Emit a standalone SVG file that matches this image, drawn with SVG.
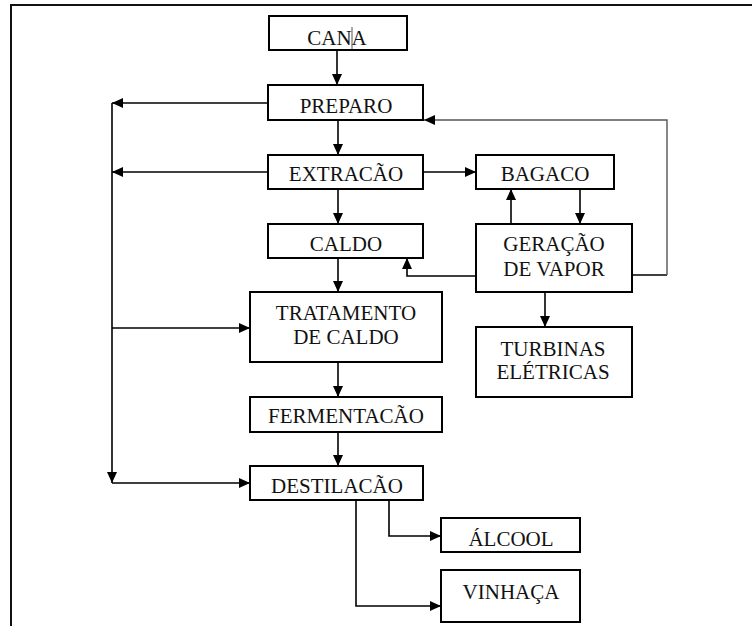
<svg xmlns="http://www.w3.org/2000/svg" width="752" height="626" viewBox="0 0 752 626">
<defs>
<marker id="ah" markerUnits="userSpaceOnUse" markerWidth="12" markerHeight="10" refX="11" refY="5" orient="auto">
<path d="M0,0 L11,5 L0,10 z" fill="#000"/>
</marker>
<style>
.box{fill:#fff;stroke:#000;stroke-width:2}
.t{font-family:'Liberation Serif','Times New Roman','DejaVu Serif',serif;font-size:21px;fill:#111;text-anchor:middle}
.c{fill:none;stroke:#000;stroke-width:1.6}
.g{fill:none;stroke:#555;stroke-width:1.4}
</style>
</defs>
<rect width="752" height="626" fill="#fff"/>
<path d="M11,626 V5 H752" fill="none" stroke="#111" stroke-width="2"/>

<g id="connectors">
<path class="c" d="M337,50 V85" marker-end="url(#ah)"/>
<path class="c" d="M268,103 H112" marker-end="url(#ah)"/>
<path class="c" d="M338,120 V155" marker-end="url(#ah)"/>
<path class="c" d="M268,172 H112" marker-end="url(#ah)"/>
<path class="c" d="M423,172 H476" marker-end="url(#ah)"/>
<path class="c" d="M338,189 V224" marker-end="url(#ah)"/>
<path class="c" d="M580,189 V224" marker-end="url(#ah)"/>
<path class="c" d="M511,224 V189" marker-end="url(#ah)"/>
<path class="c" d="M476,276 H407 V258" marker-end="url(#ah)"/>
<path class="c" d="M632,275 H667"/>
<path class="g" d="M667,275 V120 H424" marker-end="url(#ah)"/>
<path class="c" d="M338,258 V292" marker-end="url(#ah)"/>
<path class="c" d="M112,103 V483" marker-end="url(#ah)"/>
<path class="c" d="M112,328 H250" marker-end="url(#ah)"/>
<path class="c" d="M112,483 H250" marker-end="url(#ah)"/>
<path class="c" d="M545,292 V327" marker-end="url(#ah)"/>
<path class="c" d="M338,362 V397" marker-end="url(#ah)"/>
<path class="c" d="M338,432 V466" marker-end="url(#ah)"/>
<path class="c" d="M389,500 V536 H441" marker-end="url(#ah)"/>
<path class="c" d="M356,500 V606 H441" marker-end="url(#ah)"/>
</g>

<g font-family="Liberation Serif, serif">
<g id="cana">
<rect class="box" x="269" y="16" width="138" height="34"/>
<text class="t" x="337" y="45">CANA</text>
<line x1="352" y1="27" x2="352" y2="49" stroke="#555" stroke-width="1"/>
</g>
<g id="preparo">
<rect class="box" x="268" y="85" width="155" height="35"/>
<text class="t" x="346" y="113">PREPARO</text>
</g>
<g id="extracao">
<rect class="box" x="268" y="155" width="155" height="34"/>
<text class="t" x="346" y="181">EXTRACÃO</text>
</g>
<g id="caldo">
<rect class="box" x="268" y="224" width="155" height="34"/>
<text class="t" x="346" y="251">CALDO</text>
</g>
<g id="bagaco">
<rect class="box" x="476" y="155" width="138" height="34"/>
<text class="t" x="545" y="181">BAGACO</text>
</g>
<g id="geracao">
<rect class="box" x="476" y="224" width="156" height="68"/>
<text class="t" x="554" y="251">GERAÇÃO</text>
<text class="t" x="554" y="276">DE VAPOR</text>
</g>
<g id="turbinas">
<rect class="box" x="476" y="327" width="156" height="70"/>
<text class="t" x="553" y="356">TURBINAS</text>
<text class="t" x="553" y="379">ELÉTRICAS</text>
</g>
<g id="tratamento">
<rect class="box" x="250" y="292" width="192" height="70"/>
<text class="t" x="346" y="320">TRATAMENTO</text>
<text class="t" x="346" y="344">DE CALDO</text>
</g>
<g id="fermentacao">
<rect class="box" x="250" y="397" width="192" height="35"/>
<text class="t" x="346" y="423">FERMENTACÃO</text>
</g>
<g id="destilacao">
<rect class="box" x="250" y="466" width="173" height="34"/>
<text class="t" x="337" y="493">DESTILACÃO</text>
</g>
<g id="alcool">
<rect class="box" x="441" y="518" width="139" height="34"/>
<text class="t" x="511" y="546">ÁLCOOL</text>
</g>
<g id="vinhaca">
<rect class="box" x="441" y="570" width="139" height="52"/>
<text class="t" x="511" y="599">VINHAÇA</text>
</g>
</g>
</svg>
